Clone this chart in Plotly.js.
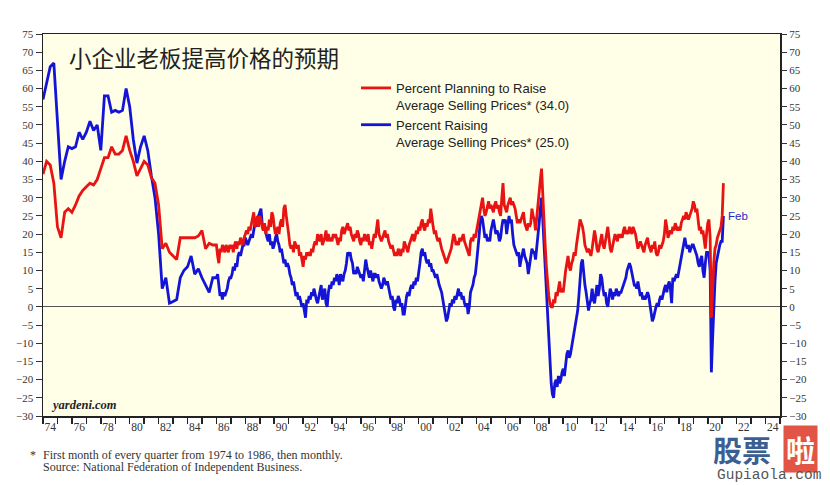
<!DOCTYPE html>
<html>
<head>
<meta charset="utf-8">
<script src="https://cdn.plot.ly/plotly-3.0.1.min.js"></script>
<style>
html,body{margin:0;padding:0;background:#fff;}
#chart{width:830px;height:485px;}
</style>
</head>
<body>
<div id="chart"></div>
<script>
// Quarterly readings (first month of each quarter), 1974 Q1 – 1985 Q4
const planQuarterly = [
  36.5, 40, 39, 34,   22, 19, 26, 27,   26, 28, 30.5, 32,   33, 34, 33.5, 35,
  38, 41, 41, 44,     42, 42, 43, 47,   43, 40, 36, 38,     40, 39, 35.5, 34,
  28, 16, 17.5, 15,   14, 13, 19, 19,   19, 19, 19, 19.5,   21, 16, 17.5, 17
];
const raiseQuarterly = [
  57, 62, 66, 67,     52, 35, 40, 44,   43.5, 44, 48, 46,   48, 51, 48.5, 50,
  43, 58, 58, 53.5,   54, 53.5, 54, 60, 55, 46, 39.5, 44,   47, 43, 36, 30,
  20, 5, 8, 1,        1.5, 2, 8, 10,    11, 14, 9, 10.5,    8, 6, 4, 8
];
// Monthly readings, Jan 1986 – Feb 2021 (one row per year)
const planMonthly = [
  17,14,12,16,15,17,16,15,17,16,15,17,   // 1986
  16,17,15,17,18,16,18,17,19,18,17,19,   // 1987
  20,21,20,22,21,23,24,26,22,23,25,22,   // 1988
  25,24,22,21,23,20,22,21,24,22,26,25,   // 1989
  22,20,21,22,20,23,24,22,27,28,25,23,   // 1990
  20,17,16,17,15,18,17,16,17,14,15,13,   // 1991
  11,14,13,15,14,15,14,16,15,17,18,17,   // 1992
  20,19,18,20,17,18,19,21,18,20,18,19,   // 1993
  18,20,19,20,18,17,19,18,21,22,20,21,   // 1994
  22,23,21,22,20,19,18,20,19,21,20,18,   // 1995
  17,19,18,20,19,18,20,17,18,16,18,20,   // 1996
  19,21,24,20,19,18,19,20,21,19,20,18,   // 1997
  17,16,17,15,14,15,14,16,15,14,16,15,   // 1998
  18,17,16,15,17,18,19,20,18,19,21,20,   // 1999
  22,21,23,24,22,21,23,22,24,23,27,24,   // 2000
  22,20,21,19,18,19,17,16,15,14,13,12,   // 2001
  13,14,15,16,18,20,19,17,18,17,19,18,   // 2002
  19,20,18,17,16,15,14,18,19,18,20,19,   // 2003
  21,22,25,27,29,30,27,25,26,28,29,27,   // 2004
  28,27,26,28,29,27,28,26,25,30,34,28,   // 2005
  27,26,28,29,30,28,29,28,27,25,23,24,   // 2006
  23,24,25,26,23,22,21,23,22,23,27,25,   // 2007
  24,21,25,28,31,35,38,30,23,17,11,6,    // 2008
  3,1,0,0,2,1,4,3,5,7,4,5,               // 2009
  4,8,10,12,14,11,10,12,13,15,14,17,     // 2010
  19,21,24,23,22,20,17,16,15,16,15,14,   // 2011
  16,18,21,19,16,15,17,19,20,17,16,18,   // 2012
  20,22,19,16,15,17,18,20,19,18,20,19,   // 2013
  20,19,21,22,20,21,20,22,21,20,22,21,   // 2014
  20,18,16,17,18,17,16,15,17,18,19,17,   // 2015
  16,15,17,16,18,15,14,15,17,16,17,18,   // 2016
  20,24,22,19,20,21,20,22,21,23,22,21,   // 2017
  22,21,23,24,25,24,26,25,24,25,26,27,   // 2018
  29,28,26,27,24,21,22,20,21,18,16,20,   // 2019
  23,24,19,-3,6,12,16,17,19,20,21,22,    // 2020
  25,34                                  // 2021
];
const raiseMonthly = [
  8,9,5,3,4,2,4,3,4,5,7,8,               // 1986
  8,9,11,10,12,11,14,15,14,16,17,17,     // 1987
  19,18,17,18,19,20,19,21,23,22,24,25,   // 1988
  26,27,23,21,22,20,19,18,20,17,18,16,   // 1989
  17,19,20,18,17,15,16,14,12,13,11,12,   // 1990
  11,9,8,6,7,5,3,4,2,3,1,0,              // 1991
  1,-1,-3,2,1,3,2,4,3,5,3,2,             // 1992
  1,3,4,6,2,4,5,1,0,4,6,5,               // 1993
  7,6,8,7,9,8,6,9,8,7,9,10,              // 1994
  12,15,14,15,13,12,9,10,9,11,10,9,      // 1995
  8,9,7,10,13,11,9,8,10,8,7,9,           // 1996
  9,8,9,7,6,5,6,8,7,6,7,5,               // 1997
  4,2,3,0,-1,2,1,3,2,0,1,-2,             // 1998
  -2,1,3,4,3,5,6,5,7,6,8,7,              // 1999
  9,12,15,16,14,15,13,12,13,11,12,10,    // 2000
  10,9,8,9,7,6,5,4,2,0,-2,-4,            // 2001
  -3,-1,1,0,2,1,3,2,4,5,3,4,             // 2002
  2,3,1,0,1,-2,0,4,5,6,8,9,              // 2003
  12,15,19,23,25,24,22,19,20,18,19,18,   // 2004
  21,23,24,22,20,21,20,18,19,22,24,23,   // 2005
  24,20,22,25,23,24,20,17,16,15,14,15,   // 2006
  11,13,15,16,14,13,12,9,11,13,16,15,    // 2007
  15,13,16,19,23,27,30,24,17,10,4,-1,    // 2008
  -10,-16,-21,-24,-25,-21,-20,-22,-19,-21,-20,-18, // 2009
  -17,-19,-15,-13,-12,-14,-13,-11,-9,-8,-6,-3,     // 2010
  -1,3,9,12,13,9,6,4,2,-1,1,2,           // 2011
  5,2,1,4,6,3,5,9,8,5,3,4,               // 2012
  1,0,3,5,4,2,4,3,5,4,3,4,               // 2013
  4,5,6,7,8,10,11,12,11,9,7,6,           // 2014
  6,5,7,5,3,4,2,3,2,3,4,3,               // 2015
  1,-2,-4,-3,-1,0,1,0,2,3,2,4,           // 2016
  5,6,4,6,7,5,1,8,7,8,9,8,               // 2017
  10,11,13,15,17,19,17,16,17,15,16,17,   // 2018
  17,16,15,14,12,11,13,14,10,8,12,15,    // 2019
  15,14,10,-18,-9,0,7,12,14,16,17,18,    // 2020
  18,25                                  // 2021
];
const planName  = 'Percent Planning to Raise<br>Average Selling Prices* (34.0)';
const raiseName = 'Percent Raising<br>Average Selling Prices* (25.0)';
const chartTitle = '小企业老板提高价格的预期';
const yearTickLabels = ['74','76','78','80','82','84','86','88','90','92','94','96','98',
  '00','02','04','06','08','10','12','14','16','18','20','22','24'];
const footnote1 = 'First month of every quarter from 1974 to 1986, then monthly.';
const footnote2 = 'Source: National Federation of Independent Business.';

// Build x positions (decimal years)
const xs = [];
planQuarterly.forEach((_, i) => xs.push(1974 + i * 0.25));
planMonthly.forEach((_, j) => xs.push(1986 + j / 12));
const planAll = planQuarterly.concat(planMonthly);
const raiseAll = raiseQuarterly.concat(raiseMonthly);

const yearTicks = [];
for (let y = 1974; y <= 2025; y++) yearTicks.push(y);
const labelPos = yearTickLabels.map((_, i) => 1974.5 + 2 * i);
const yTicks = [];
for (let v = -30; v <= 75; v += 5) yTicks.push(v);

const serif = 'Liberation Serif, Times New Roman, serif';
const sans = 'Liberation Sans, Arial, sans-serif';

const traces = [
  {x: xs, y: raiseAll, type: 'scatter', mode: 'lines', name: raiseName,
   line: {color: 'rgb(20,20,215)', width: 2.8}, hoverinfo: 'skip'},
  {x: xs, y: planAll, type: 'scatter', mode: 'lines', name: planName,
   line: {color: 'rgb(232,20,20)', width: 2.8}, hoverinfo: 'skip'},
  {x: [1974], y: [0], type: 'scatter', mode: 'none', xaxis: 'x', yaxis: 'y2',
   showlegend: false, hoverinfo: 'skip'}
];

const layout = {
  width: 830, height: 485,
  margin: {l: 43, r: 50, t: 34, b: 69},
  paper_bgcolor: '#ffffff',
  plot_bgcolor: '#FFFEE6',
  showlegend: true,
  legend: {x: 0.4247, y: 0.898, xanchor: 'left', yanchor: 'top',
           bgcolor: 'rgba(0,0,0,0)', font: {family: sans, size: 13, color: '#222'},
           traceorder: 'reversed', tracegroupgap: 8, valign: 'top', itemwidth: 30},
  xaxis: {
    range: [1974, 2025], showgrid: false, zeroline: false,
    tickmode: 'array', tickvals: labelPos, ticktext: yearTickLabels,
    ticks: '', showline: true, linecolor: '#222', linewidth: 1.5, mirror: true,
    tickfont: {family: serif, size: 11.5, color: '#333'},
    minor: {tickmode: 'array', tickvals: yearTicks, ticks: 'outside', ticklen: 6,
            tickwidth: 1.5, tickcolor: '#222', showgrid: false}
  },
  yaxis: {
    range: [-30, 75], showgrid: false, tickmode: 'array', tickvals: yTicks,
    ticks: 'outside', ticklen: 6, tickwidth: 1, tickcolor: '#333',
    showline: true, linecolor: '#222', linewidth: 1.5, mirror: true,
    zeroline: true, zerolinecolor: '#555', zerolinewidth: 1,
    tickfont: {family: serif, size: 11, color: '#333'}
  },
  yaxis2: {
    range: [-30, 75], overlaying: 'y', side: 'right', showgrid: false,
    tickmode: 'array', tickvals: yTicks, ticks: 'outside', ticklen: 6,
    tickwidth: 1, tickcolor: '#333', zeroline: false, showline: false,
    tickfont: {family: serif, size: 11, color: '#333'}
  },
  annotations: [
    {text: chartTitle, xref: 'paper', yref: 'paper', x: (67 - 43) / 737, y: (416 - 57) / 382,
     xanchor: 'left', yanchor: 'middle', showarrow: false,
     font: {family: 'Noto Sans CJK SC', size: 22.5, color: '#222'}},
    {text: 'Feb', xref: 'x', yref: 'y', x: 2021.083, y: 25, xanchor: 'left', yanchor: 'middle',
     xshift: 3, showarrow: false, font: {family: sans, size: 11.5, color: 'rgb(40,40,200)'}},
    {text: '<b><i>yardeni.com</i></b>', xref: 'paper', yref: 'paper', x: (49 - 43) / 737, y: 0,
     xanchor: 'left', yanchor: 'bottom', yshift: 2, showarrow: false,
     font: {family: serif, size: 12.5, color: '#222'}},
    {text: '*', xref: 'paper', yref: 'paper', x: (28 - 43) / 737, y: (416 - 455) / 382,
     xanchor: 'left', yanchor: 'middle', showarrow: false,
     font: {family: serif, size: 12, color: '#333'}},
    {text: footnote1, xref: 'paper', yref: 'paper', x: (41 - 43) / 737, y: (416 - 455) / 382,
     xanchor: 'left', yanchor: 'middle', showarrow: false,
     font: {family: serif, size: 12, color: '#333'}},
    {text: footnote2, xref: 'paper', yref: 'paper', x: (41 - 43) / 737, y: (416 - 467) / 382,
     xanchor: 'left', yanchor: 'middle', showarrow: false,
     font: {family: serif, size: 12, color: '#333'}},
    {text: '<b>股票</b>', xref: 'paper', yref: 'paper', x: (711 - 43) / 737, y: (416 - 449) / 382,
     xanchor: 'left', yanchor: 'middle', showarrow: false,
     font: {family: 'Noto Sans CJK SC', size: 29, color: 'rgb(60,95,145)'}},
    {text: '<b>啦</b>', xref: 'paper', yref: 'paper', x: (783 - 43) / 737, y: (416 - 449) / 382,
     xanchor: 'left', yanchor: 'middle', showarrow: false, bgcolor: 'rgb(226,85,70)',
     borderpad: 2, font: {family: 'Noto Sans CJK SC', size: 29, color: '#fff'}},
    {text: 'Gupiaola.com', xref: 'paper', yref: 'paper', x: (769 - 43) / 737, y: (416 - 475) / 382,
     xanchor: 'center', yanchor: 'middle', showarrow: false,
     font: {family: 'Liberation Mono, monospace', size: 14.5, color: '#555'}}
  ]
};

Plotly.newPlot('chart', traces, layout, {displayModeBar: false, staticPlot: true});
</script>
</body>
</html>
